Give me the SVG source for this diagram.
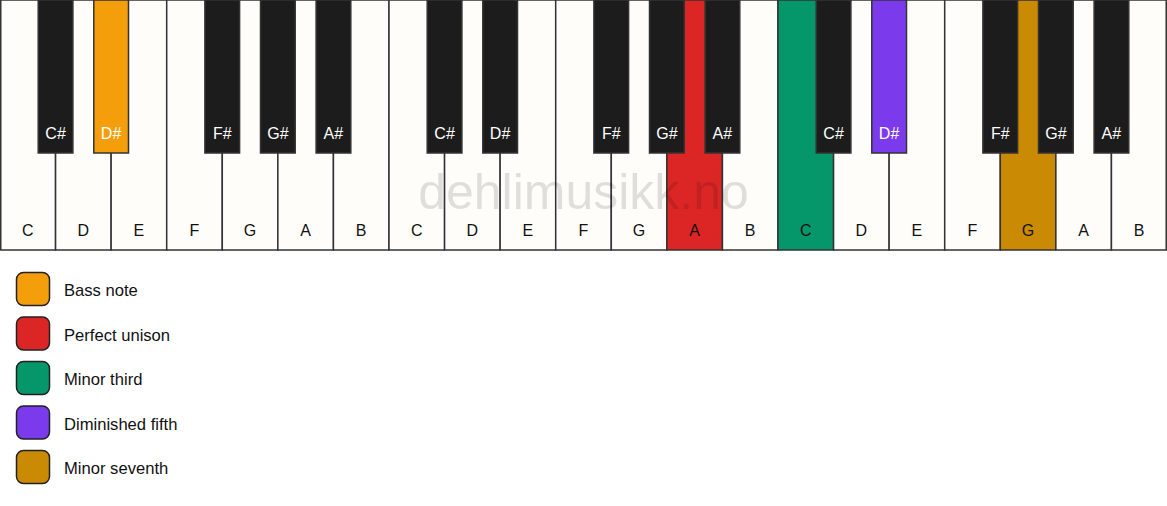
<svg xmlns="http://www.w3.org/2000/svg" width="1167" height="506" viewBox="0 0 1167 506">
<style>
.w{fill:#fffdf9;stroke:#333;stroke-width:1.5}
.b{fill:#1c1c1c;stroke:#333;stroke-width:1.5}
.t{font-family:"Liberation Sans",Arial,sans-serif;font-size:16px;text-anchor:middle}
.wt{fill:#111}
.bt{fill:#fff}
.l{font-family:"Liberation Sans",Arial,sans-serif;font-size:16.6px;fill:#111}
.sw{stroke:#222;stroke-width:1.5}
</style>
<rect width="1167" height="506" fill="#fff"/>
<g id="white-keys">
<rect class="w" x="0.75" y="0" width="54.8" height="250"/>
<rect class="w" x="55.57" y="0" width="55.57" height="250"/>
<rect class="w" x="111.14" y="0" width="55.57" height="250"/>
<rect class="w" x="166.71" y="0" width="55.57" height="250"/>
<rect class="w" x="222.29" y="0" width="55.57" height="250"/>
<rect class="w" x="277.86" y="0" width="55.57" height="250"/>
<rect class="w" x="333.43" y="0" width="55.57" height="250"/>
<rect class="w" x="389" y="0" width="55.57" height="250"/>
<rect class="w" x="444.57" y="0" width="55.57" height="250"/>
<rect class="w" x="500.14" y="0" width="55.57" height="250"/>
<rect class="w" x="555.71" y="0" width="55.57" height="250"/>
<rect class="w" x="611.29" y="0" width="55.57" height="250"/>
<rect class="w" x="666.86" y="0" width="55.57" height="250" style="fill:#dc2626"/>
<rect class="w" x="722.43" y="0" width="55.57" height="250"/>
<rect class="w" x="778" y="0" width="55.57" height="250" style="fill:#059669"/>
<rect class="w" x="833.57" y="0" width="55.57" height="250"/>
<rect class="w" x="889.14" y="0" width="55.57" height="250"/>
<rect class="w" x="944.71" y="0" width="55.57" height="250"/>
<rect class="w" x="1000.29" y="0" width="55.57" height="250" style="fill:#ca8a04"/>
<rect class="w" x="1055.86" y="0" width="55.57" height="250"/>
<rect class="w" x="1111.43" y="0" width="54.8" height="250"/>
</g>
<g id="white-labels" class="t wt">
<text x="27.8" y="236">C</text>
<text x="83.4" y="236">D</text>
<text x="138.9" y="236">E</text>
<text x="194.5" y="236">F</text>
<text x="250.1" y="236">G</text>
<text x="305.6" y="236">A</text>
<text x="361.2" y="236">B</text>
<text x="416.8" y="236">C</text>
<text x="472.4" y="236">D</text>
<text x="527.9" y="236">E</text>
<text x="583.5" y="236">F</text>
<text x="639.1" y="236">G</text>
<text x="694.6" y="236">A</text>
<text x="750.2" y="236">B</text>
<text x="805.8" y="236">C</text>
<text x="861.4" y="236">D</text>
<text x="916.9" y="236">E</text>
<text x="972.5" y="236">F</text>
<text x="1028.1" y="236">G</text>
<text x="1083.6" y="236">A</text>
<text x="1139.2" y="236">B</text>
</g>
<text x="583.5" y="209" style="font-family:'Liberation Sans',Arial,sans-serif;font-size:50px;fill:#000;fill-opacity:0.12;text-anchor:middle">dehlimusikk.no</text>
<g id="black-keys">
<rect class="b" x="38.2" y="0" width="34.7" height="153"/>
<rect class="b" x="93.8" y="0" width="34.7" height="153" style="fill:#f59e0b"/>
<rect class="b" x="204.9" y="0" width="34.7" height="153"/>
<rect class="b" x="260.5" y="0" width="34.7" height="153"/>
<rect class="b" x="316.1" y="0" width="34.7" height="153"/>
<rect class="b" x="427.2" y="0" width="34.7" height="153"/>
<rect class="b" x="482.8" y="0" width="34.7" height="153"/>
<rect class="b" x="593.9" y="0" width="34.7" height="153"/>
<rect class="b" x="649.5" y="0" width="34.7" height="153"/>
<rect class="b" x="705.1" y="0" width="34.7" height="153"/>
<rect class="b" x="816.2" y="0" width="34.7" height="153"/>
<rect class="b" x="871.8" y="0" width="34.7" height="153" style="fill:#7c3aed"/>
<rect class="b" x="982.9" y="0" width="34.7" height="153"/>
<rect class="b" x="1038.5" y="0" width="34.7" height="153"/>
<rect class="b" x="1094.1" y="0" width="34.7" height="153"/>
</g>
<g id="black-labels" class="t bt">
<text x="55.6" y="139">C#</text>
<text x="111.1" y="139">D#</text>
<text x="222.3" y="139">F#</text>
<text x="277.9" y="139">G#</text>
<text x="333.4" y="139">A#</text>
<text x="444.6" y="139">C#</text>
<text x="500.1" y="139">D#</text>
<text x="611.3" y="139">F#</text>
<text x="666.9" y="139">G#</text>
<text x="722.4" y="139">A#</text>
<text x="833.6" y="139">C#</text>
<text x="889.1" y="139">D#</text>
<text x="1000.3" y="139">F#</text>
<text x="1055.9" y="139">G#</text>
<text x="1111.4" y="139">A#</text>
</g>
<g id="legend-bass">
<rect class="sw" x="16.5" y="272.5" width="33" height="33" rx="7" fill="#f59e0b"/>
<text class="l" x="64" y="296">Bass note</text>
</g>
<g id="legend-unison">
<rect class="sw" x="16.5" y="317" width="33" height="33" rx="7" fill="#dc2626"/>
<text class="l" x="64" y="340.5">Perfect unison</text>
</g>
<g id="legend-third">
<rect class="sw" x="16.5" y="361.5" width="33" height="33" rx="7" fill="#059669"/>
<text class="l" x="64" y="385">Minor third</text>
</g>
<g id="legend-fifth">
<rect class="sw" x="16.5" y="406" width="33" height="33" rx="7" fill="#7c3aed"/>
<text class="l" x="64" y="429.5">Diminished fifth</text>
</g>
<g id="legend-seventh">
<rect class="sw" x="16.5" y="450.5" width="33" height="33" rx="7" fill="#ca8a04"/>
<text class="l" x="64" y="474">Minor seventh</text>
</g>
<g id="connectors"/>
</svg>
